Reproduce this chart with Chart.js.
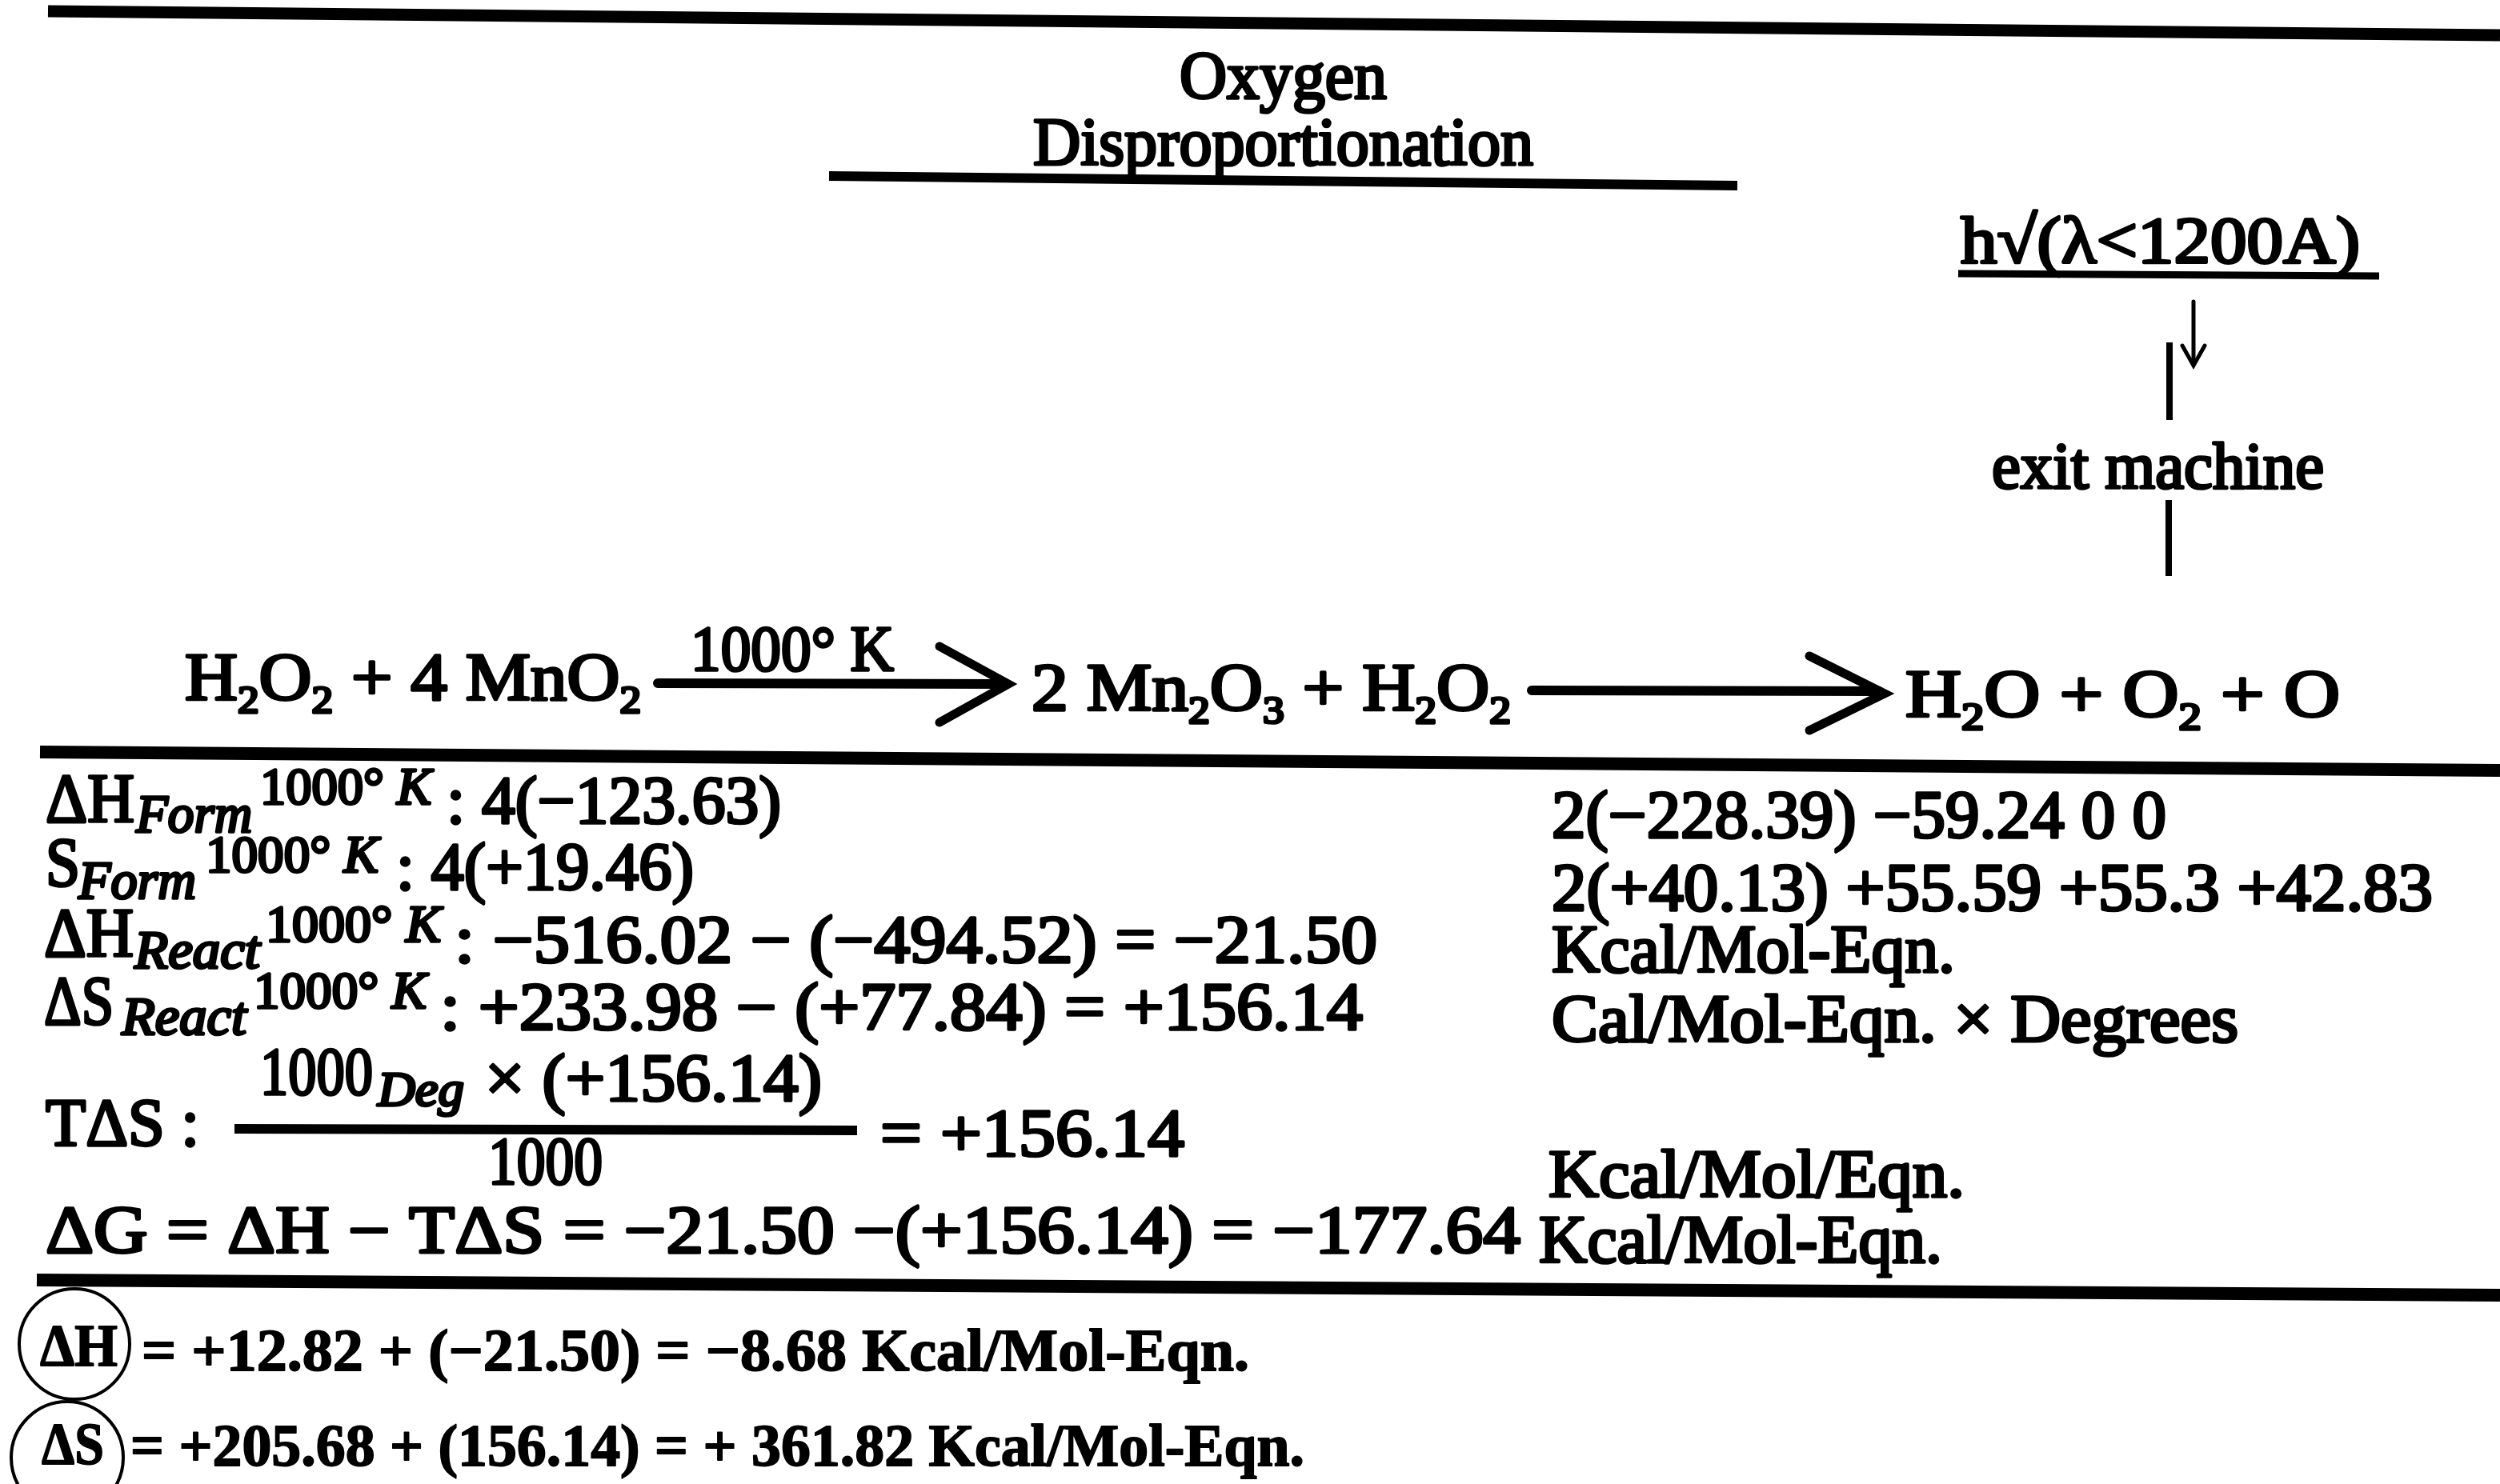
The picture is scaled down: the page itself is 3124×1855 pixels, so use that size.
<!DOCTYPE html>
<html>
<head>
<meta charset="utf-8">
<title>Oxygen Disproportionation</title>
<script src="https://cdn.jsdelivr.net/npm/chart.js@4.4.1/dist/chart.umd.min.js"></script>
<style>
  html, body { margin: 0; padding: 0; background: #fff; overflow: hidden; }
  #sheet { display: block; }
</style>
</head>
<body>
<canvas id="sheet" width="3124" height="1855"></canvas>
<script>
// Texte de la feuille ( _x = indice, ~ = bascule italique )
const titleText = ['Oxygen', 'Disproportionation'];
const lightText = ['h√(λ<1200A)', 'exit machine'];
const reactionText = ['H_2O_2 + 4 MnO_2', '1000° K', '2 Mn_2O_3 + H_2O_2', 'H_2O + O_2 + O'];
const propSymbols = ['ΔH', 'S', 'ΔH', 'ΔS'];
const propKinds = ['Form', 'Form', 'React', 'React'];
const propTemps = ['1000° ~K~', '1000° ~K~', '1000° ~K~', '1000° ~K~'];
const reactantValues = [': 4(−123.63)', ': 4(+19.46)', ': −516.02 − (−494.52) = −21.50', ': +233.98 − (+77.84) = +156.14'];
const productValues = ['2(−228.39) −59.24 0 0', '2(+40.13) +55.59 +55.3 +42.83', 'Kcal/Mol-Eqn.', 'Cal/Mol-Eqn. × Degrees'];
const tdsText = ['TΔS :', '1000', '~Deg~', '× (+156.14)', '1000', '= +156.14', 'Kcal/Mol/Eqn.'];
const dgText = ['ΔG = ΔH − TΔS = −21.50 −(+156.14) = −177.64', 'Kcal/Mol-Eqn.'];
const totalSymbols = ['ΔH', 'ΔS'];
const totalText = ['= +12.82 + (−21.50) = −8.68 Kcal/Mol-Eqn.', '= +205.68 + (156.14) = + 361.82 Kcal/Mol-Eqn.'];

// mise en page : [x, ligne de base, largeur, taille]
const titlePos = [[1474, 123, 259, 84], [1291, 206, 625, 84]];
const lightPos = [[2450, 328, 499, 82], [2489, 610, 415, 82]];
const reactionPos = [[231, 875, 570, 84], [863, 838, 254, 80], [1289, 888, 599, 84], [2381, 896, 543, 84]];
const symbolPos = [[57, 1027, 111, 86], [57, 1107, 43, 86], [55, 1195, 112, 86], [55, 1280, 87, 86]];
const kindPos = [[170, 1040, 145, 68], [98, 1123, 147, 68], [168, 1210, 157, 68], [152, 1293, 156, 68]];
const tempPos = [[325, 1005, 214, 66], [257, 1090, 216, 66], [332, 1177, 219, 66], [317, 1260, 216, 66]];
const reactantPos = [[558, 1029, 418, 84], [495, 1112, 372, 84], [568, 1203, 1153, 84], [550, 1287, 1153, 84]];
const productPos = [[1939, 1047, 768, 84], [1939, 1138, 1101, 84], [1939, 1215, 504, 84], [1939, 1302, 858, 84]];
const tdsPos = [[57, 1432, 192, 84], [325, 1368, 141, 84], [472, 1382, 108, 62], [606, 1376, 421, 84],
                [610, 1480, 143, 84], [1100, 1445, 380, 84], [1935, 1496, 520, 84]];
const dgPos = [[57, 1566, 1843, 84], [1923, 1578, 504, 84]];
const totalSymbolPos = [[50, 1707, 97, 74], [52, 1830, 78, 74]];
const totalPos = [[177, 1713, 1384, 74], [163, 1832, 1467, 74]];

// traits : points + epaisseur
const rules = [
  [[[60, 14], [3124, 44]], 15],
  [[[1036, 220], [2171, 232]], 12],
  [[[2447, 342], [2973, 345]], 9],
  [[[50, 940], [3124, 963]], 16],
  [[[293, 1411], [1071, 1413]], 12],
  [[[46, 1600], [3124, 1619]], 16],
  [[[2711, 428], [2711, 525]], 8],
  [[[2710, 625], [2710, 720]], 8]
];
const arrows = [
  [[[822, 854], [1252, 855]], 12],
  [[[1174, 808], [1260, 855], [1174, 903]], 11],
  [[[1914, 863], [2348, 864]], 12],
  [[[2261, 820], [2355, 867], [2261, 913]], 11],
  [[[2741, 377], [2741, 455]], 5],
  [[[2727, 432], [2741, 457], [2755, 432]], 5]
];
const circles = [[93, 1680, 69], [84, 1822, 70]];

var labels = [];
function place(texts, pos, italic, bold) {
  texts.forEach(function (t, i) {
    labels.push({ text: t, x: pos[i][0], y: pos[i][1], w: pos[i][2], size: pos[i][3], italic: italic, bold: bold });
  });
}
place(titleText, titlePos);
place(lightText, lightPos);
place(reactionText, reactionPos);
place(propSymbols, symbolPos);
place(propKinds, kindPos, true);
place(propTemps, tempPos);
place(reactantValues, reactantPos);
place(productValues, productPos);
place(tdsText, tdsPos);
place(dgText, dgPos);
place(totalSymbols, totalSymbolPos, false, true);
place(totalText, totalPos, false, true);

function runsOf(str, italic) {
  var runs = [], i = 0;
  while (i < str.length) {
    var c = str[i];
    if (c === '~') { italic = !italic; i++; continue; }
    if (c === '_') { runs.push({ t: str[i + 1], sub: true, it: italic }); i += 2; continue; }
    var last = runs[runs.length - 1];
    if (last && !last.sub && last.it === italic) last.t += c;
    else runs.push({ t: c, sub: false, it: italic });
    i++;
  }
  return runs;
}

function fontFor(run, size, bold) {
  var s = run.sub ? size * 0.58 : size;
  return (run.it ? 'italic ' : '') + (bold ? 'bold ' : '') + Math.round(s) + 'px "Liberation Serif", "Times New Roman", serif';
}

var sheetText = {
  id: 'sheetText',
  afterDatasetsDraw: function (chart) {
    var ctx = chart.ctx, sx = chart.scales.x, sy = chart.scales.y;
    labels.forEach(function (lb) {
      var runs = runsOf(lb.text, !!lb.italic);
      var natural = 0;
      runs.forEach(function (r) {
        ctx.font = fontFor(r, lb.size, lb.bold);
        r.w = ctx.measureText(r.t).width;
        natural += r.w;
      });
      var px = sx.getPixelForValue(lb.x), py = sy.getPixelForValue(lb.y);
      var pw = sx.getPixelForValue(lb.x + lb.w) - px;
      ctx.save();
      ctx.translate(px, py);
      ctx.scale(pw / natural, 1);
      ctx.fillStyle = '#000';
      ctx.strokeStyle = '#000';
      ctx.lineWidth = lb.bold ? 1.8 : 3.6;
      ctx.lineJoin = 'round';
      ctx.textAlign = 'left';
      ctx.textBaseline = 'alphabetic';
      var cx = 0;
      runs.forEach(function (r) {
        ctx.font = fontFor(r, lb.size, lb.bold);
        var dy = r.sub ? lb.size * 0.19 : 0;
        ctx.fillText(r.t, cx, dy);
        ctx.strokeText(r.t, cx, dy);
        cx += r.w;
      });
      ctx.restore();
    });
  }
};

function stroke(seg, round) {
  return {
    data: seg[0].map(function (p) { return { x: p[0], y: p[1] }; }),
    showLine: true,
    borderColor: '#000',
    borderWidth: seg[1],
    borderCapStyle: round ? 'round' : 'butt',
    borderJoinStyle: 'miter',
    pointRadius: 0,
    tension: 0,
    fill: false,
    clip: false
  };
}

var datasets = [];
rules.forEach(function (r) { datasets.push(stroke(r, false)); });
arrows.forEach(function (a) { datasets.push(stroke(a, true)); });
datasets.push({
  data: circles.map(function (c) { return { x: c[0], y: c[1] }; }),
  showLine: false,
  pointRadius: circles.map(function (c) { return c[2]; }),
  pointBorderWidth: 4,
  pointBorderColor: '#000',
  pointBackgroundColor: 'rgba(0,0,0,0)',
  clip: false
});

var getElemSheet = document.getElementById('sheet').getContext('2d');
var mySheet = new Chart(getElemSheet, {
  type: 'scatter',
  data: { datasets: datasets },
  options: {
    responsive: false,
    animation: false,
    devicePixelRatio: 1,
    events: [],
    layout: { padding: 0, autoPadding: false },
    scales: {
      x: { type: 'linear', min: 0, max: 3124, display: false },
      y: { type: 'linear', min: 0, max: 1855, reverse: true, display: false }
    },
    plugins: { legend: { display: false }, tooltip: { enabled: false } }
  },
  plugins: [sheetText]
});
</script>
</body>
</html>
